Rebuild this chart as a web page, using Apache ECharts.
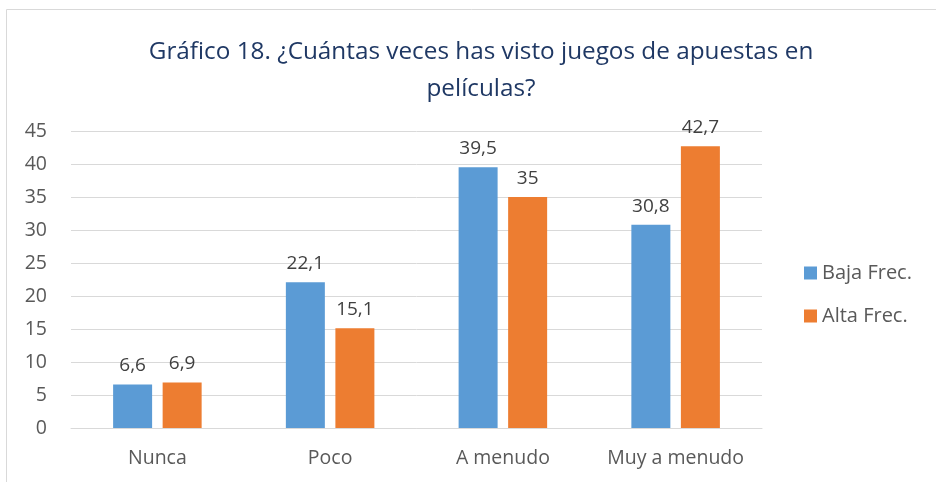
<!DOCTYPE html>
<html>
<head>
<meta charset="utf-8">
<script src="https://cdn.jsdelivr.net/npm/echarts@6/dist/echarts.min.js"></script>
<style>
html, body { margin: 0; padding: 0; background: #fff; }
#chart { width: 936px; height: 482px; }
</style>
</head>
<body>
<div id="chart"></div>
<script>
var categories = ['Nunca', 'Poco', 'A menudo', 'Muy a menudo'];
var bajaFrec = [6.6, 22.1, 39.5, 30.8];
var altaFrec = [6.9, 15.1, 35, 42.7];

var fontFamily = 'Open Sans, Noto Sans, sans-serif';

function fmt(p) {
    return String(p.value).replace('.', ',');
}

var chart = echarts.init(document.getElementById('chart'));
chart.setOption({
    animation: false,
    textStyle: {fontFamily: fontFamily},
    title: {
        text: 'Gráfico 18. ¿Cuántas veces has visto juegos de apuestas en\npelículas?',
        left: 476,
        top: 29,
        textAlign: 'center',
        textStyle: {
            color: '#1F3864',
            fontSize: 24.3,
            fontWeight: 'normal',
            lineHeight: 37,
            fontFamily: fontFamily
        }
    },
    graphic: [{
        type: 'rect',
        shape: {x: 6.5, y: 9.5, width: 960, height: 500},
        style: {fill: 'none', stroke: '#D9D9D9', lineWidth: 1},
        silent: true
    }],
    legend: {
        orient: 'vertical',
        left: 799,
        top: 258,
        itemWidth: 13,
        itemHeight: 13,
        itemGap: 23,
        icon: 'rect',
        textStyle: {color: '#595959', fontSize: 20, fontFamily: fontFamily},
        data: ['Baja Frec.', 'Alta Frec.']
    },
    grid: {left: 71, right: 174, top: 131, bottom: 54},
    xAxis: {
        type: 'category',
        data: categories,
        axisLine: {lineStyle: {color: '#D9D9D9', width: 1}},
        axisTick: {show: false},
        axisLabel: {color: '#595959', fontSize: 19.5, margin: 20, interval: 0, fontFamily: fontFamily}
    },
    yAxis: {
        type: 'value',
        min: 0,
        max: 45,
        interval: 5,
        axisLine: {show: false},
        axisTick: {show: false},
        splitLine: {lineStyle: {color: '#D9D9D9', width: 1}},
        axisLabel: {color: '#595959', fontSize: 19.5, margin: 24, fontFamily: fontFamily}
    },
    series: [{
        name: 'Baja Frec.',
        type: 'bar',
        data: bajaFrec,
        barWidth: 39,
        barGap: '27%',
        itemStyle: {color: '#5B9BD5'},
        label: {show: true, position: 'top', distance: 9, color: '#404040', fontSize: 19, formatter: fmt, fontFamily: fontFamily}
    }, {
        name: 'Alta Frec.',
        type: 'bar',
        data: altaFrec,
        barWidth: 39,
        barGap: '27%',
        itemStyle: {color: '#ED7D31'},
        label: {show: true, position: 'top', distance: 9, color: '#404040', fontSize: 19, formatter: fmt, fontFamily: fontFamily}
    }]
});
</script>
</body>
</html>
